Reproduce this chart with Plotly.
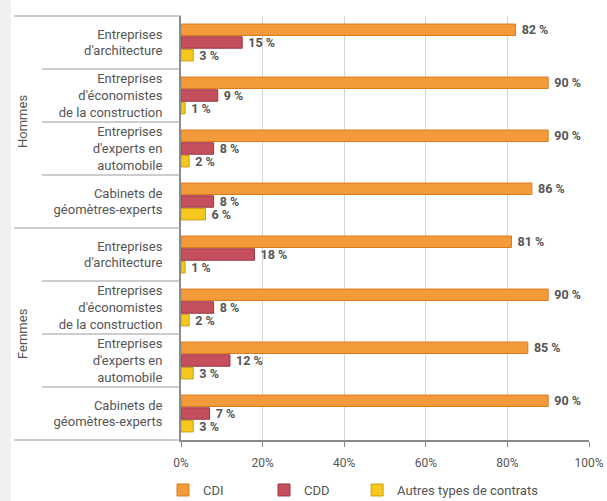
import plotly.graph_objects as go

categories = [
    "Entreprises<br>d'architecture",
    "Entreprises<br>d'économistes<br>de la construction",
    "Entreprises<br>d'experts en<br>automobile",
    "Cabinets de<br>géomètres-experts",
    "Entreprises<br>d'architecture",
    "Entreprises<br>d'économistes<br>de la construction",
    "Entreprises<br>d'experts en<br>automobile",
    "Cabinets de<br>géomètres-experts",
]
groups = ["Hommes", "Femmes"]
cdi = [82, 90, 90, 86, 81, 90, 85, 90]
cdd = [15, 9, 8, 8, 18, 8, 12, 7]
autres = [3, 1, 2, 6, 1, 2, 3, 3]
x_ticks = [0, 20, 40, 60, 80, 100]
x_ticktext = ["0%", "20%", "40%", "60%", "80%", "100%"]

NB = "\u00a0"
series = [
    ("CDI", cdi, "#F39B3A", "#DD7A1E", 11),
    ("CDD", cdd, "#C64F5E", "#9C3444", 7),
    ("Autres types de contrats", autres, "#F6C81E", "#C9A114", 0),
]

ypos = list(range(len(categories)))
TXT = "#555555"
FONT = "Roboto"

fig = go.Figure()
for name, vals, col, lcol, pad in series:
    fig.add_trace(go.Bar(
        y=ypos, x=vals, name=name + NB * pad, orientation="h",
        marker=dict(color=col, line=dict(color=lcol, width=1)),
        text=[f"{NB}{v} %" for v in vals], textposition="outside",
        constraintext="none",
        textfont=dict(family=FONT, size=12.5, color=TXT, weight="bold"),
        cliponaxis=False,
    ))

shapes = []
W = 408.0
def px(xp):
    return (xp - 181) / W
n = len(categories)
for k in range(n + 1):
    full = k in (0, 4, 8)
    shapes.append(dict(type="line", xref="paper", yref="paper",
                       x0=px(14 if full else 42), x1=0, y0=1 - k / n, y1=1 - k / n,
                       line=dict(color="#9a9a9a", width=1)))
# left grey strip
shapes.append(dict(type="rect", xref="paper", yref="paper", x0=px(0), x1=px(11),
                   y0=-1, y1=2, fillcolor="#EEF0EF", line=dict(width=0), layer="below"))

annotations = []
for i, g in enumerate(groups):
    annotations.append(dict(text=g, xref="paper", yref="paper", x=px(22), y=0.75 - 0.5 * i,
                            xanchor="center", yanchor="middle",
                            showarrow=False, textangle=-90,
                            font=dict(family=FONT, size=13, color=TXT)))

fig.update_layout(
    width=607, height=501,
    margin=dict(l=181, r=18, t=16, b=61, autoexpand=False),
    paper_bgcolor="white", plot_bgcolor="white",
    barmode="group", bargap=0.28, bargroupgap=0.1,
    font=dict(family=FONT, size=13, color=TXT),
    shapes=shapes, annotations=annotations,
    showlegend=True,
    legend=dict(orientation="h", x=px(163), xanchor="left", y=-0.118, yanchor="middle",
                font=dict(family=FONT, size=13, color=TXT),
                traceorder="normal"),
    xaxis=dict(range=[0, 100], tickvals=x_ticks, ticktext=x_ticktext,
               showgrid=True, gridcolor="#d4d4d4", gridwidth=1,
               showline=True, linecolor="#8a8a8a", linewidth=2,
               ticks="outside", ticklen=5, tickcolor="#8a8a8a",
               ticklabelstandoff=6, zeroline=False,
               tickfont=dict(family=FONT, size=12, color=TXT), fixedrange=True),
    yaxis=dict(range=[n - 0.5, -0.5], tickvals=ypos, ticktext=categories,
               showgrid=False, showline=True, linecolor="#8a8a8a", linewidth=2,
               ticks="", ticklabelstandoff=14, zeroline=False,
               tickfont=dict(family=FONT, size=13, color=TXT)),
)

fig.write_html("out.html")
